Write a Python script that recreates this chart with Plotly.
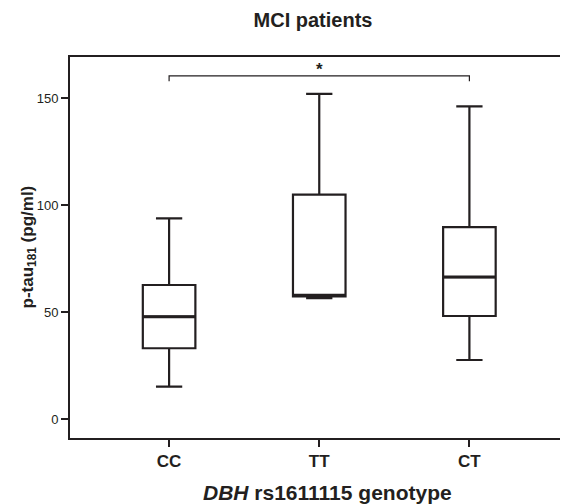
import plotly.graph_objects as go

# ---- data ----
categories = ["CC", "TT", "CT"]
lower_whisker = [15.1, 56.6, 27.6]
q1_values = [33.1, 57.4, 48.2]
median_values = [47.9, 57.9, 66.4]
q3_values = [62.7, 105.0, 89.8]
upper_whisker = [93.9, 152.1, 146.3]

y_tickvals = [0, 50, 100, 150]
title_text = "<b>MCI patients</b>"
y_title = "<b>p-tau<sub>181</sub> (pg/ml)</b>"
x_title = "<b><i>DBH</i> rs1611115 genotype</b>"
signif_label = "<b>*</b>"
signif_pair = ("CC", "CT")

INK = "#231f20"
FONT = "Liberation Sans, Arial, sans-serif"
BOX_W = 0.35

# page body has an 8px margin: figure is placed at (8, 8)
W, H = 560, 496

fig = go.Figure()
for i, cat in enumerate(categories):
    fig.add_trace(go.Box(
        x=[cat],
        q1=[q1_values[i]], median=[median_values[i]], q3=[q3_values[i]],
        lowerfence=[lower_whisker[i]], upperfence=[upper_whisker[i]],
        width=BOX_W, whiskerwidth=0.5,
        fillcolor="white",
        line=dict(color=INK, width=2.2),
        boxpoints=False, showlegend=False, hoverinfo="skip",
    ))
    # thicker median line
    fig.add_shape(type="line", xref="x", yref="y",
                  x0=i - BOX_W / 2, x1=i + BOX_W / 2,
                  y0=median_values[i], y1=median_values[i],
                  line=dict(color=INK, width=3))

# significance bracket
i0, i1 = categories.index(signif_pair[0]), categories.index(signif_pair[1])
br_top, br_drop = 160.6, 2.5
fig.add_shape(type="path",
              path=f"M {i0},{br_top-br_drop} L {i0},{br_top} L {i1},{br_top} L {i1},{br_top-br_drop}",
              xref="x", yref="y", line=dict(color=INK, width=1.2))
fig.add_annotation(x=(i0 + i1) / 2, y=br_top, text=signif_label, showarrow=False,
                   yanchor="bottom", yshift=-5, font=dict(size=17, color=INK, family=FONT))

# right border (faint)
fig.add_shape(type="line", xref="paper", yref="paper", x0=1, x1=1, y0=0, y1=1,
              line=dict(color="#cfcfcf", width=1))

fig.add_annotation(x=0, xref="paper", y=0.5, yref="paper", xshift=-42,
                   text=y_title, textangle=-90, showarrow=False,
                   xanchor="center", yanchor="middle",
                   font=dict(size=17, color=INK, family=FONT))
fig.add_annotation(x=1, xref="x", y=0, yref="paper", yshift=-54, xshift=8,
                   text=x_title, showarrow=False, xanchor="center", yanchor="middle",
                   font=dict(size=21, color=INK, family=FONT))

fig.update_layout(
    width=W, height=H,
    margin=dict(l=62, r=1, t=49, b=66),
    paper_bgcolor="white", plot_bgcolor="white",
    title=dict(text=title_text, x=305 / W, xanchor="center", y=1 - 12 / H, yanchor="middle",
               font=dict(size=20, color=INK, family=FONT)),
    xaxis=dict(type="category", range=[-0.66, 2.65], showgrid=False, zeroline=False,
               showline=True, linecolor=INK, linewidth=2, mirror=True,
               ticks="outside", ticklen=7, tickwidth=2, tickcolor=INK,
               tickfont=dict(size=17, color=INK, family=FONT),
               tickprefix="<b>", ticksuffix="</b>"),
    yaxis=dict(range=[-8.9, 169.4], showgrid=False, zeroline=False,
               showline=True, linecolor=INK, linewidth=2,
               tickvals=y_tickvals, ticks="outside", ticklen=7, tickwidth=2, tickcolor=INK,
               tickfont=dict(size=13, color=INK, family=FONT),
               tickprefix="<b>", ticksuffix="</b>"),
)

fig.write_html("out.html")
